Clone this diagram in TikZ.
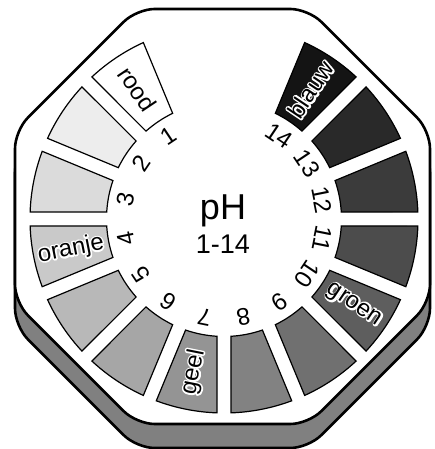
\documentclass[tikz,border=0pt]{standalone}
\usepackage{fontspec}
\setmainfont{Liberation Sans}
\usetikzlibrary{calc}
\tikzset{
	num/.style={font=\fontsize{24}{24}\selectfont, inner sep=0pt},
	tag/.style={font=\fontsize{24}{24}\selectfont, inner sep=0pt}
}
\def\dialstrip[#1](#2:#3){\draw[#1, line width=1.2pt] ({#2+2.07}:194) arc ({#2+2.07}:{#3-2.07}:194) -- ({#3-3.41}:117.5) arc ({#3-3.41}:{#2+3.41}:117.5) -- cycle;}
\def\octagon{(22.5:224.6) -- (67.5:224.6) -- (112.5:224.6) -- (157.5:224.6) -- (202.5:224.6) -- (247.5:224.6) -- (292.5:224.6) -- (337.5:224.6) -- cycle}
% white rim round a word: stroked outline first, the word over it
\def\halo#1{\makebox[0pt][l]{\special{pdf:code q 1 j 1 J 3.2 w 1 G 1 Tr}#1\special{pdf:code 0 Tr Q}}#1}

\begin{document}
\begin{tikzpicture}[x=1pt, y=1pt]
			%%%%% START %%%%%
			\useasboundingbox (-224, -230) rectangle (210, 219);
			
			\draw[fill=black!50, line width=2.6pt, rounded corners=18pt, shift={(-1.5, -21.5)}] \octagon;
			\draw[fill=white, line width=2.6pt, rounded corners=18pt, shift={(-1.5, 2.5)}] \octagon;
			
			\dialstrip[fill=white](112.5:135)
			\dialstrip[fill=black!7](135:157.5)
			\dialstrip[fill=black!14](157.5:180)
			\dialstrip[fill=black!21](180:202.5)
			\dialstrip[fill=black!28](202.5:225)
			\dialstrip[fill=black!35](225:247.5)
			\dialstrip[fill=black!42](247.5:270)
			\dialstrip[fill=black!49](270:292.5)
			\dialstrip[fill=black!56](292.5:315)
			\dialstrip[fill=black!63](315:337.5)
			\dialstrip[fill=black!70](337.5:360)
			\dialstrip[fill=black!77](360:382.5)
			\dialstrip[fill=black!84](382.5:405)
			\dialstrip[fill=black!92](405:427.5)
			
			\node[num, rotate=33.75] (n1) at (123.75:100) {1};
			\node[num, rotate=56.25] (n2) at (146.25:100) {2};
			\node[num, rotate=78.75] (n3) at (168.75:100) {3};
			\node[num, rotate=101.25] (n4) at (191.25:100) {4};
			\node[num, rotate=123.75] (n5) at (213.75:100) {5};
			\node[num, rotate=146.25] (n6) at (236.25:100) {6};
			\node[num, rotate=168.75] (n7) at (258.75:100) {7};
			\node[num, rotate=191.25] (n8) at (281.25:100) {8};
			\node[num, rotate=213.75] (n9) at (303.75:100) {9};
			\node[num, rotate=236.25] (n10) at (326.25:100) {10};
			\node[num, rotate=258.75] (n11) at (348.75:100) {11};
			\node[num, rotate=281.25] (n12) at (11.25:100) {12};
			\node[num, rotate=303.75] (n13) at (33.75:100) {13};
			\node[num, rotate=326.25] (n14) at (56.25:100) {14};
			
			\node[tag, rotate=-56.25] (rood) at (123.75:156) {rood};
			\node[tag, rotate=11.25] (oranje) at (191.25:156) {\halo{oranje}};
			\node[tag, rotate=78.75] (geel) at (258.75:156) {\halo{geel}};
			\node[tag, rotate=-33.75] (groen) at (326.25:156) {\halo{groen}};
			\node[tag, rotate=56.25] (blauw) at (56.25:156) {\halo{blauw}};
			
			\node[font=\fontsize{36}{36}\selectfont, inner sep=0pt] (ph) at (-1, 8) {pH};
			\node[font=\fontsize{27}{27}\selectfont, inner sep=0pt] (range) at (-1, -25.5) {1-14};
			
			%%%%% END %%%%%
\end{tikzpicture}
\end{document}
